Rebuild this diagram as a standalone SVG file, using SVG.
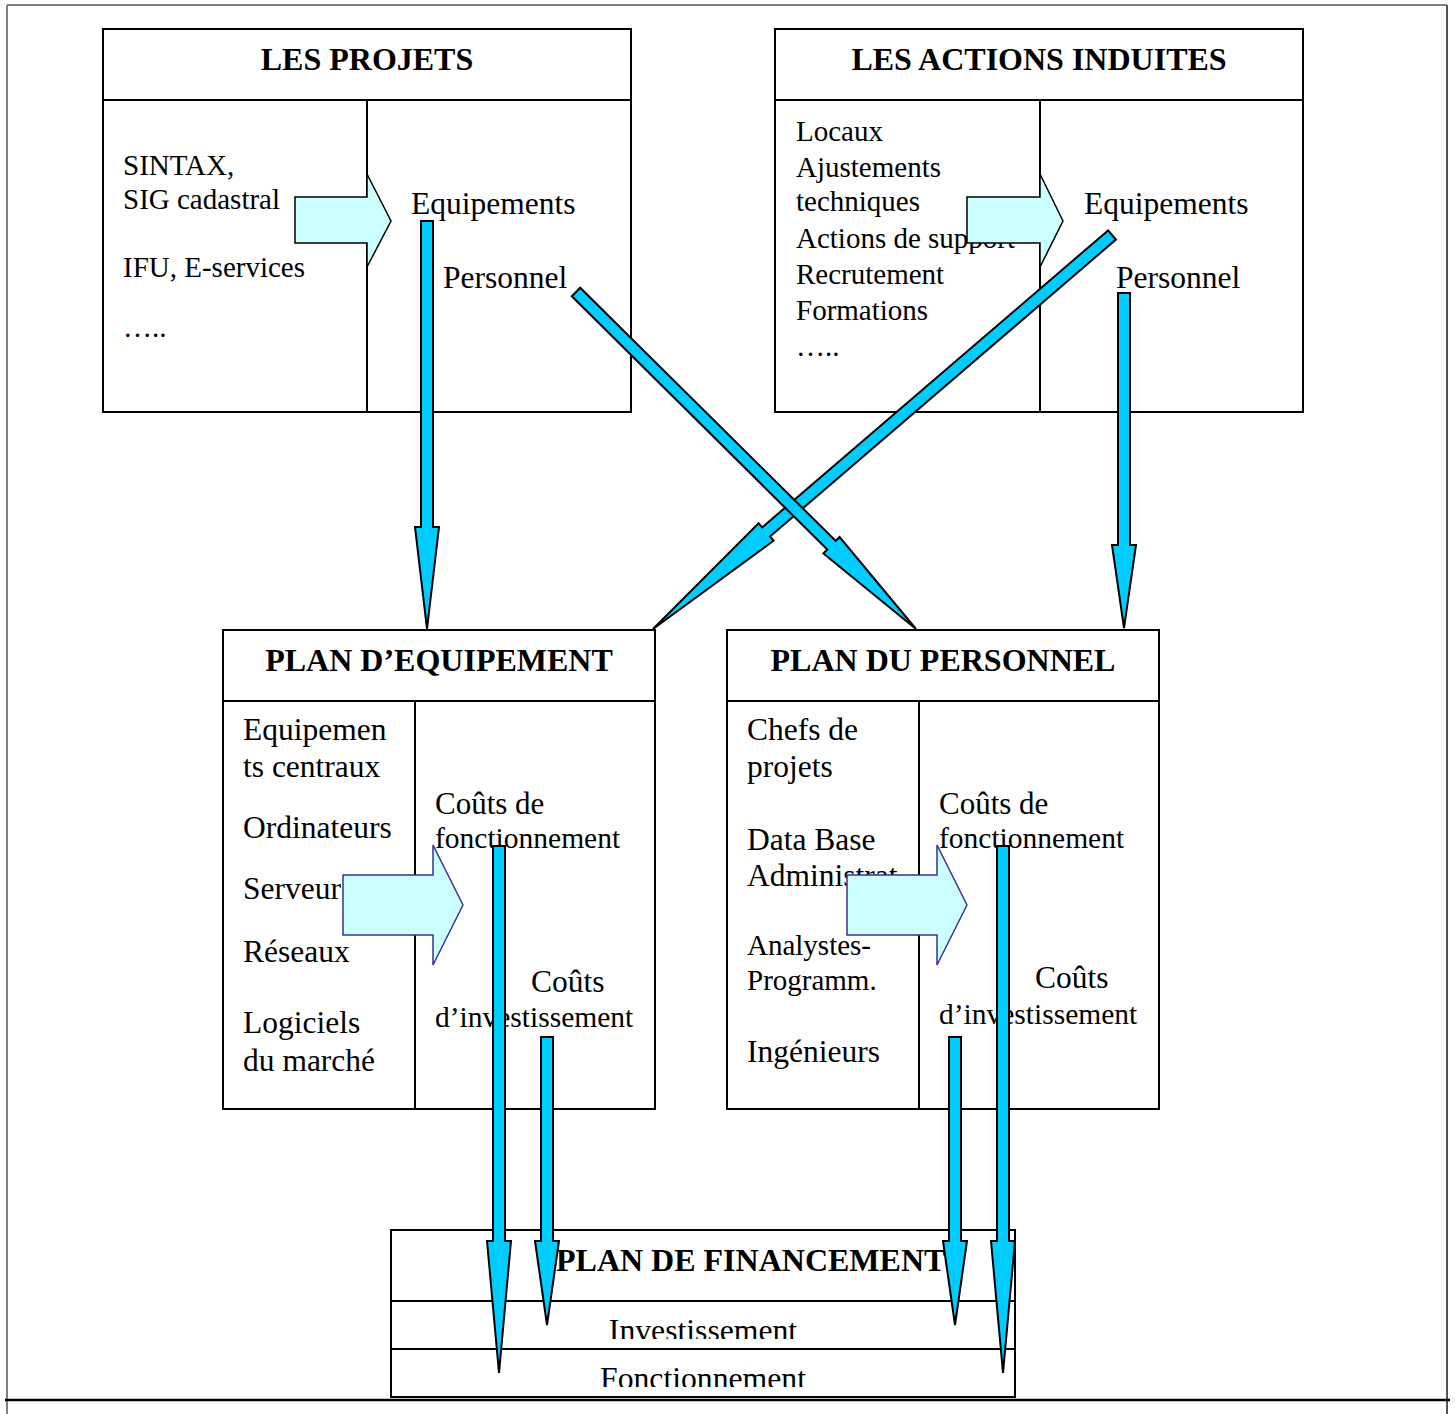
<svg xmlns="http://www.w3.org/2000/svg" width="1455" height="1414" viewBox="0 0 1455 1414">
<style>
.box{fill:#fff;stroke:#000;stroke-width:2}
.ln{stroke:#000;stroke-width:2;fill:none}
.t{font-family:"Liberation Serif","Times New Roman",serif;fill:#000}
.h{font-family:"Liberation Serif","Times New Roman",serif;font-weight:bold;font-size:32px;fill:#000}
.blk{fill:#CCFFFF;stroke:#000;stroke-width:1.5;stroke-linejoin:miter}
.blk2{fill:#CCFFFF;stroke:#333399;stroke-width:1.5}
.arr{fill:#00CCFF;stroke:#000;stroke-width:2;stroke-linejoin:miter}
</style>
<defs>
<clipPath id="clipInv"><rect x="392" y="1302" width="622" height="37"/></clipPath>
<clipPath id="clipFon"><rect x="392" y="1350" width="622" height="37"/></clipPath>
</defs>
<rect width="1455" height="1414" fill="#fff"/>
<g id="frame">
<line x1="7" y1="5" x2="1447" y2="5" stroke="#808080" stroke-width="2"/>
<line x1="7" y1="5" x2="7" y2="1414" stroke="#808080" stroke-width="2"/>
<line x1="1447" y1="5" x2="1447" y2="1414" stroke="#555" stroke-width="2"/>
<line x1="5" y1="1400" x2="1450" y2="1400" stroke="#000" stroke-width="2.5"/>
</g>
<g id="les-projets">
<rect class="box" x="103" y="29" width="528" height="383"/>
<line class="ln" x1="103" y1="100" x2="631" y2="100"/>
<line class="ln" x1="367" y1="100" x2="367" y2="412"/>
<text class="h" x="367" y="70" text-anchor="middle">LES PROJETS</text>
<text class="t" font-size="29" x="123" y="175">SINTAX,</text>
<text class="t" font-size="29" x="123" y="209">SIG cadastral</text>
<text class="t" font-size="29" x="123" y="277">IFU, E-services</text>
<text class="t" font-size="29" x="123" y="337">…..</text>
<text class="t" font-size="31.5" x="411" y="214">Equipements</text>
<text class="t" font-size="31.5" x="443" y="288">Personnel</text>
</g>
<g id="les-actions-induites">
<rect class="box" x="775" y="29" width="528" height="383"/>
<line class="ln" x1="775" y1="100" x2="1303" y2="100"/>
<line class="ln" x1="1040" y1="100" x2="1040" y2="412"/>
<text class="h" x="1039" y="70" text-anchor="middle">LES ACTIONS INDUITES</text>
<text class="t" font-size="29" x="796" y="141">Locaux</text>
<text class="t" font-size="29" x="796" y="177">Ajustements</text>
<text class="t" font-size="29" x="796" y="211">techniques</text>
<text class="t" font-size="29" x="796" y="248">Actions de support</text>
<text class="t" font-size="29" x="796" y="284">Recrutement</text>
<text class="t" font-size="29" x="796" y="320">Formations</text>
<text class="t" font-size="29" x="796" y="356">…..</text>
<text class="t" font-size="31.5" x="1084" y="214">Equipements</text>
<text class="t" font-size="31.5" x="1116" y="288">Personnel</text>
</g>
<g id="plan-equipement">
<rect class="box" x="223" y="630" width="432" height="479"/>
<line class="ln" x1="223" y1="701" x2="655" y2="701"/>
<line class="ln" x1="415" y1="701" x2="415" y2="1109"/>
<text class="h" x="439" y="671" text-anchor="middle">PLAN D’EQUIPEMENT</text>
<text class="t" font-size="31.5" x="243" y="740">Equipemen</text>
<text class="t" font-size="31.5" x="243" y="777">ts centraux</text>
<text class="t" font-size="31.5" x="243" y="838">Ordinateurs</text>
<text class="t" font-size="31.5" x="243" y="899">Serveur</text>
<text class="t" font-size="31.5" x="243" y="962">Réseaux</text>
<text class="t" font-size="31.5" x="243" y="1033">Logiciels</text>
<text class="t" font-size="31.5" x="243" y="1071">du marché</text>
<text class="t" font-size="31" x="435" y="814">Coûts de</text>
<text class="t" font-size="29.5" x="435" y="848">fonctionnement</text>
<text class="t" font-size="31.5" x="531" y="992">Coûts</text>
<text class="t" font-size="29.5" x="435" y="1027">d’investissement</text>
</g>
<g id="plan-personnel">
<rect class="box" x="727" y="630" width="432" height="479"/>
<line class="ln" x1="727" y1="701" x2="1159" y2="701"/>
<line class="ln" x1="919" y1="701" x2="919" y2="1109"/>
<text class="h" x="943" y="671" text-anchor="middle">PLAN DU PERSONNEL</text>
<text class="t" font-size="31.5" x="747" y="740">Chefs de</text>
<text class="t" font-size="31.5" x="747" y="777">projets</text>
<text class="t" font-size="31.5" x="747" y="850">Data Base</text>
<text class="t" font-size="31.5" x="747" y="886">Administrat</text>
<text class="t" font-size="29" x="747" y="955">Analystes-</text>
<text class="t" font-size="29" x="747" y="990">Programm.</text>
<text class="t" font-size="31.5" x="747" y="1062">Ingénieurs</text>
<text class="t" font-size="31" x="939" y="814">Coûts de</text>
<text class="t" font-size="29.5" x="939" y="848">fonctionnement</text>
<text class="t" font-size="31.5" x="1035" y="988">Coûts</text>
<text class="t" font-size="29.5" x="939" y="1024">d’investissement</text>
</g>
<g id="plan-financement">
<rect class="box" x="391" y="1230" width="624" height="167"/>
<line class="ln" x1="391" y1="1301" x2="1015" y2="1301"/>
<line class="ln" x1="391" y1="1349" x2="1015" y2="1349"/>
<text class="h" x="556" y="1271">PLAN DE FINANCEMENT</text>
<text class="t" font-size="31.7" x="703" y="1341" text-anchor="middle" clip-path="url(#clipInv)">Investissement</text>
<text class="t" font-size="31.7" x="703" y="1389" text-anchor="middle" clip-path="url(#clipFon)">Fonctionnement</text>
</g>
<g id="connectors">
<polygon class="blk" points="295,197 367,197 367,174 391,221 367,267 367,243 295,243"/>
<polygon class="blk" points="967,197 1040,197 1040,174 1063,221 1040,267 1040,243 967,243"/>
<polygon class="blk2" points="343,875 433,875 433,845 463,905 433,965 433,935 343,935"/>
<polygon class="blk2" points="847,875 937,875 937,845 967,905 937,965 937,935 847,935"/>
<polygon class="arr" points="1108.1,230.4 762.2,527.4 758.6,523.2 653,629 773.6,540.7 770,536.5 1115.9,239.6"/>
<polygon class="arr" points="571.8,296.3 827.3,549.5 823.4,553.4 916,629 839.6,537 835.7,540.9 580.2,287.7"/>
<polygon class="arr" points="421,221 433,221 433,527 439,527 427,629 415,527 421,527"/>
<polygon class="arr" points="1118,293 1130,293 1130,545 1136,545 1124,628 1112,545 1118,545"/>
<polygon class="arr" points="493,846 505,846 505,1241 511,1241 499,1373 487,1241 493,1241"/>
<polygon class="arr" points="541,1037 553,1037 553,1241 559,1241 547,1325 535,1241 541,1241"/>
<polygon class="arr" points="949,1037 961,1037 961,1241 967,1241 955,1325 943,1241 949,1241"/>
<polygon class="arr" points="997,846 1009,846 1009,1241 1015,1241 1003,1373 991,1241 997,1241"/>
</g>
</svg>
